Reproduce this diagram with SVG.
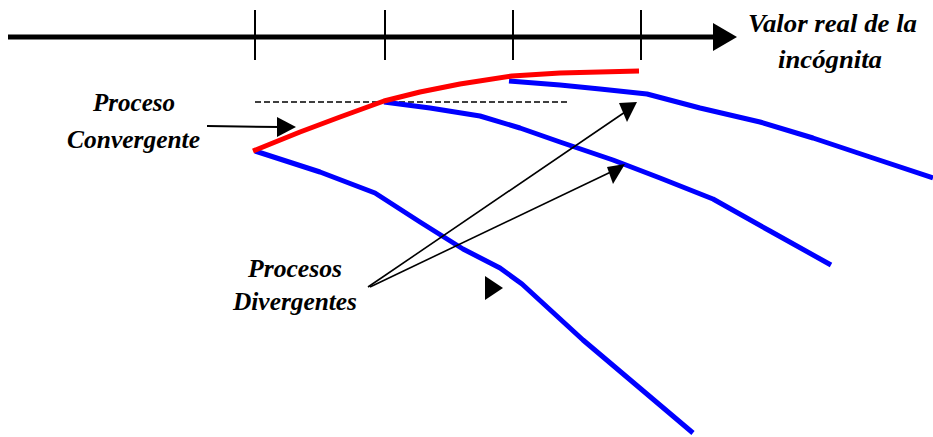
<svg xmlns="http://www.w3.org/2000/svg" width="933" height="437" viewBox="0 0 933 437">
<style>
.lbl{font-family:"Liberation Serif","DejaVu Serif",serif;font-weight:bold;font-style:italic;font-size:26px;fill:#000}
.blue{fill:none;stroke:#0000ff;stroke-width:5;stroke-linejoin:round;stroke-linecap:butt}
.red{fill:none;stroke:#ff0000;stroke-width:5;stroke-linejoin:round}
.tick{stroke:#000;stroke-width:2}
.thin{stroke:#000;stroke-width:1.6;fill:none}
</style>
<rect width="933" height="437" fill="#fff"/>
<g id="axis">
<line x1="8" y1="37" x2="716" y2="37" stroke="#000" stroke-width="5"/>
<polygon points="713,23 737,37 713,51" fill="#000"/>
<line class="tick" x1="255" y1="10" x2="255" y2="60"/>
<line class="tick" x1="385" y1="10" x2="385" y2="60"/>
<line class="tick" x1="513" y1="10" x2="513" y2="60"/>
<line class="tick" x1="641" y1="10" x2="641" y2="60"/>
<text class="lbl" x="748" y="32" textLength="169" lengthAdjust="spacingAndGlyphs">Valor real de la</text>
<text class="lbl" x="778" y="68" textLength="104" lengthAdjust="spacingAndGlyphs">incógnita</text>
</g>
<g id="reference-line">
<line x1="255" y1="102" x2="568" y2="102" stroke="#000" stroke-width="1.5" stroke-dasharray="6,3"/>
</g>
<g id="divergent-1">
<polyline class="blue" points="255,151 320,172 375,193 420,222 463,249 500,268 522,284 583,340 693,433"/>
</g>
<g id="divergent-2">
<polyline class="blue" points="384,102 430,108 480,116 520,128 560,142 613,160 660,178 713,199 770,231 831,265"/>
</g>
<g id="divergent-3">
<polyline class="blue" points="509,81 560,85 600,89 647,94 700,108 760,122 813,138 870,157 933,178"/>
</g>
<g id="convergent">
<polyline class="red" points="253,151 300,132 340,117 384,101 420,92 460,84 512,76 560,73 639,71"/>
</g>
<g id="label-convergente">
<text class="lbl" x="93" y="111" textLength="82" lengthAdjust="spacingAndGlyphs">Proceso</text>
<text class="lbl" x="67" y="148" textLength="133" lengthAdjust="spacingAndGlyphs">Convergente</text>
</g>
<g id="label-divergentes">
<text class="lbl" x="248" y="277" textLength="94" lengthAdjust="spacingAndGlyphs">Procesos</text>
<text class="lbl" x="233" y="310" textLength="124" lengthAdjust="spacingAndGlyphs">Divergentes</text>
</g>
<g id="connectors">
<line x1="207" y1="126" x2="280" y2="127" stroke="#000" stroke-width="2"/>
<polygon points="277,117 296,127 277,137" fill="#000"/>
<line class="thin" x1="368" y1="287" x2="628" y2="110"/>
<polygon points="619,103 637,102 627,122" fill="#000"/>
<line class="thin" x1="370" y1="287" x2="615" y2="170"/>
<polygon points="607,167 625,164 613,184" fill="#000"/>
<polygon points="485,276 485,300 503,288" fill="#000"/>
</g>
</svg>
